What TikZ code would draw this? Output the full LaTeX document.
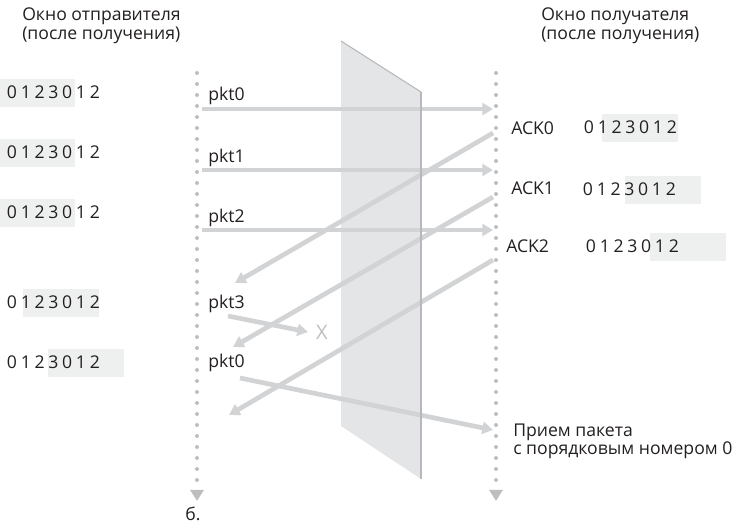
\documentclass[tikz,border=0pt]{standalone}
\usepackage{fontspec}
\setmainfont{Open Sans}
\usetikzlibrary{arrows.meta}
\definecolor{ink}{HTML}{231F20}
\definecolor{msggray}{HTML}{D1D3D4}
\definecolor{dotgray}{HTML}{BCBEC0}
\definecolor{wingray}{HTML}{EEEFEF}
\definecolor{panelgray}{HTML}{E4E5E6}
\definecolor{edgegray}{HTML}{B6B8BB}
\tikzstyle{txt}=[anchor=base west,inner sep=0pt,text=ink,font=\fontsize{13.2}{15}\selectfont]
\tikzstyle{digit}=[anchor=base,inner sep=0pt,text=ink,font=\fontsize{13.2}{15}\selectfont]
\tikzstyle{winbox}=[fill=wingray]
\tikzstyle{msg}=[draw=msggray,line width=3.5pt,-{Triangle[length=8pt,width=9pt]}]
\tikzstyle{timeline}=[draw=dotgray,line width=3pt,line cap=round,dash pattern=on 0pt off 8.25pt,-{Triangle[length=8.25pt,width=9.75pt]}]
% name, first digit x, baseline y, box from x, box to x
\newcommand{\seqwin}[5]{%
  \fill[winbox] (#4,#3-20) rectangle (#5,#3+8);
  \foreach \d [count=\i from 0] in {0,1,2,3,0,1,2}
    \node[digit] (#1\i) at (#2+13.8*\i,#3) {\d};
}

\begin{document}
\begin{tikzpicture}[x=0.75pt,y=-0.75pt]
  \useasboundingbox (0,0) rectangle (733,527);
  % channel
  \fill[panelgray] (341,41) -- (421,92) -- (421,479) -- (341,426) -- cycle;
  \draw[edgegray,line width=0.8pt] (341,41) -- (421,92);
  % headers
  \node[txt] (sh1) at (22,21) {Окно отправителя};
  \node[txt] (sh2) at (22,40) {(после получения)};
  \node[txt] (rh1) at (541,21) {Окно получателя};
  \node[txt] (rh2) at (541,40) {(после получения)};
  % sender windows
  \seqwin{sa}{12}{99}{0}{75}
  \seqwin{sb}{12}{159}{0}{75}
  \seqwin{sc}{12}{219}{0}{75}
  \seqwin{sd}{12}{309}{23}{99}
  \seqwin{se}{12}{369}{48}{124}
  % receiver windows
  \seqwin{ra}{589}{134}{602}{678}
  \seqwin{rb}{588}{196}{625}{701}
  \seqwin{rc}{591}{253}{650}{726}
  % time lines
  \coordinate (stop) at (197,73);
  \coordinate (send) at (197,501);
  \coordinate (rtop) at (496,73);
  \coordinate (rend) at (496,501);
  \draw[timeline] (stop) -- (send);
  \draw[timeline] (rtop) -- (rend);
  % message ends
  \coordinate (p0s) at (202,109);
  \coordinate (p0r) at (493,109);
  \coordinate (p1s) at (202,170);
  \coordinate (p1r) at (493,170);
  \coordinate (p2s) at (202,230);
  \coordinate (p2r) at (493,230);
  \coordinate (a0r) at (493,133);
  \coordinate (a0s) at (235,283);
  \coordinate (a1r) at (493,197);
  \coordinate (a1s) at (233,347);
  \coordinate (a2r) at (493,260);
  \coordinate (a2s) at (229,415);
  \coordinate (p3s) at (228,316);
  \coordinate (p3x) at (308,332);
  \coordinate (p4s) at (240,378);
  \coordinate (p4r) at (493,430);
  \draw[msg] (p0s) -- (p0r);
  \draw[msg] (p1s) -- (p1r);
  \draw[msg] (p2s) -- (p2r);
  \draw[msg] (a0r) -- (a0s);
  \draw[msg] (a1r) -- (a1s);
  \draw[msg] (a2r) -- (a2s);
  \draw[msg] (p3s) -- (p3x);
  \draw[msg] (p4s) -- (p4r);
  % channel edge over the messages
  \draw[edgegray,line width=1pt] (421,92) -- (421,479);
  % labels
  \node[txt] (pkt0) at (208,101) {pkt0};
  \node[txt] (pkt1) at (208,163) {pkt1};
  \node[txt] (pkt2) at (208,223) {pkt2};
  \node[txt] (pkt3) at (208,309) {pkt3};
  \node[txt] (pkt4) at (208,368) {pkt0};
  \node[txt] (ack0) at (511,135) {ACK0};
  \node[txt] (ack1) at (511,195) {ACK1};
  \node[txt] (ack2) at (506,253) {ACK2};
  \node[txt,anchor=center,text=dotgray,font=\fontsize{15}{16}\selectfont] (lost) at (322,332) {X};
  \node[txt] (rcv1) at (513,437) {Прием пакета};
  \node[txt] (rcv2) at (513,455) {с порядковым номером 0};
  \node[txt] (tag) at (185,521) {б.};
\end{tikzpicture}
\end{document}
